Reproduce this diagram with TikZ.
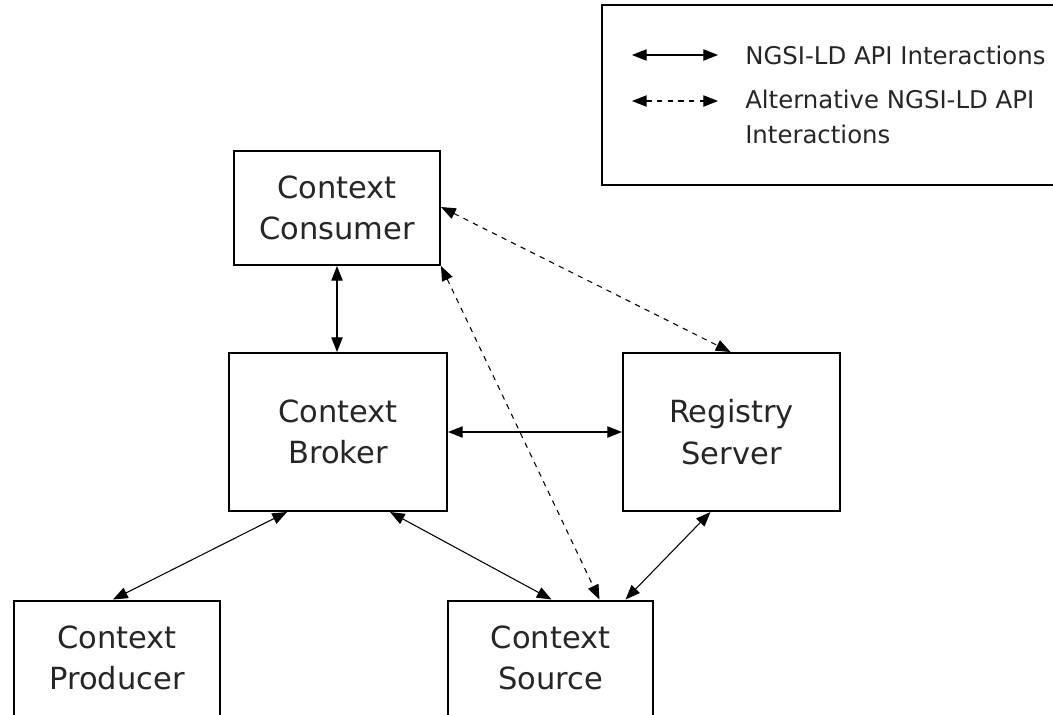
\documentclass[tikz,border=0pt]{standalone}
\usepackage{fontspec}
\setmainfont{DejaVu Sans}
\usetikzlibrary{calc, arrows.meta, positioning}

\tikzset{
    box/.style={draw, line width=1.5pt, align=center, inner sep=0pt,
        text=black!85, font=\fontsize{22.9}{31}\selectfont},
    api/.style={line width=0.8pt, {Triangle[length=11pt,width=8.5pt]}-{Triangle[length=11pt,width=8.5pt]}},
    altapi/.style={api, dash pattern=on 4pt off 4pt},
    legtext/.style={anchor=west, align=left, inner sep=0pt,
        text=black!85, font=\fontsize{18.3}{26}\selectfont}
}

\begin{document}
\begin{tikzpicture}[x=0.75pt, y=-0.75pt]
    \useasboundingbox (0,0) rectangle (1053,714);
    \node[box, minimum width=154.5pt, minimum height=85.5pt] (consumer) at (337,208) {Context\\Consumer};
    \node[box, minimum width=163.5pt, minimum height=118.5pt] (broker) at (338,432) {Context\\Broker};
    \node[box, minimum width=162.75pt, minimum height=118.5pt] (registry) at (731.5,432) {Registry\\Server};
    \node[box, minimum width=154.5pt, minimum height=86.25pt] (producer) at (117,658) {Context\\Producer};
    \node[box, minimum width=153.75pt, minimum height=86.25pt] (source) at (550.5,658) {Context\\Source};

    \draw[api] (consumer.south) -- (consumer.south |- broker.north);
    \draw[api] (broker.east) -- (registry.west);
    \draw[api] ($(broker.south)+(-51,0)$) -- ($(producer.north)+(-4,0)$);
    \draw[api] ($(broker.south)+(52,0)$) -- ($(source.north)+(1,0)$);
    \draw[api] ($(registry.south)+(-21,0)$) -- ($(source.north)+(75,0)$);
    \draw[altapi] ($(consumer.east)+(0,-1)$) -- ($(registry.north)+(-1,0)$);
    \draw[altapi] (consumer.south east) -- ($(source.north)+(49,0)$);

    % legend
    \draw[line width=1.5pt] (602,5) rectangle (1065,185);
    \node[legtext] (solidtext) at (745,55) {NGSI-LD API Interactions};
    \node[legtext, anchor=north west] (dashtext) at (745,90) {Alternative NGSI-LD API\\Interactions};
    \coordinate (solidkey) at (632,55);
    \coordinate (dashkey) at (632,101);
    \draw[api] (solidkey) -- ++(86,0);
    \draw[altapi] (dashkey) -- ++(86,0);
\end{tikzpicture}
\end{document}
